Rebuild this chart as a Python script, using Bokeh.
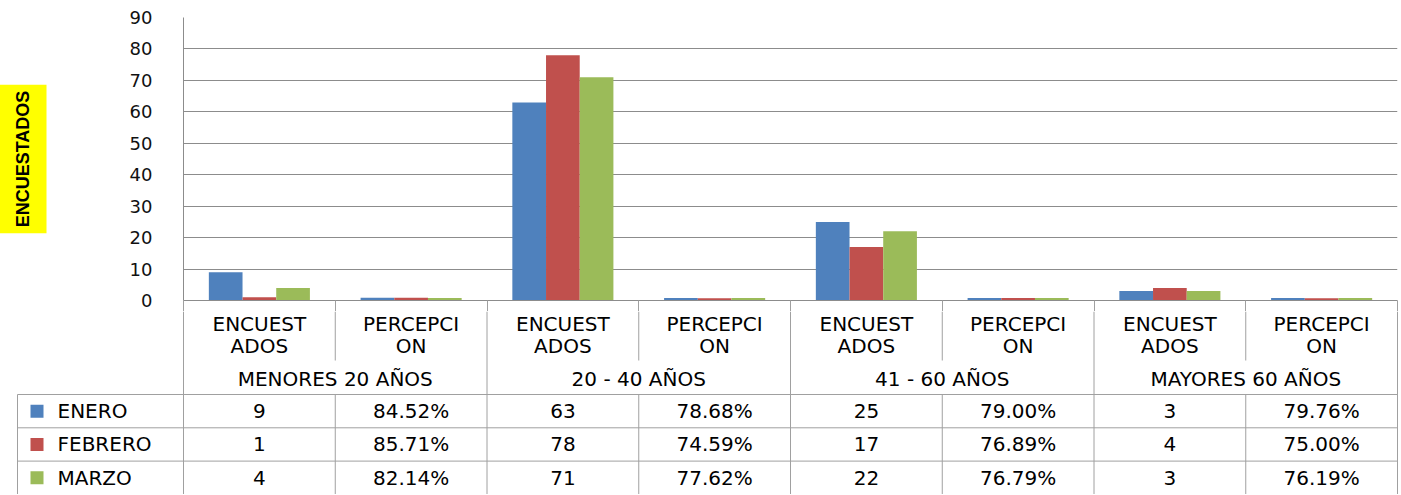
from bokeh.plotting import figure
from bokeh.layouts import column, row
from bokeh.models import Range1d, FixedTicker, Title, LinearAxis
from bokeh.core.properties import value
from bokeh.embed import file_html
from bokeh.resources import INLINE

# ---------------- data ----------------
groups = ["MENORES 20 AÑOS", "20 - 40 AÑOS", "41 - 60 AÑOS", "MAYORES 60 AÑOS"]
measure_lines = [["ENCUEST", "ADOS"], ["PERCEPCI", "ON"]]
series_names = ["ENERO", "FEBRERO", "MARZO"]
series_colors = ["#4F81BD", "#C0504D", "#9BBB59"]

enc_enero = [9, 63, 25, 3]
enc_febrero = [1, 78, 17, 4]
enc_marzo = [4, 71, 22, 3]

perc_enero = [84.52, 78.68, 79.00, 79.76]
perc_febrero = [85.71, 74.59, 76.89, 75.00]
perc_marzo = [82.14, 77.62, 76.79, 76.19]

y_ticks = [0, 10, 20, 30, 40, 50, 60, 70, 80, 90]
y_title = "ENCUESTADOS"

enc_all = [enc_enero, enc_febrero, enc_marzo]
perc_all = [perc_enero, perc_febrero, perc_marzo]

# ---------------- layout constants ----------------
W = 1400
FL = 183          # frame left
FR = 3            # frame right border
FW = W - FL - FR
NCAT = 2 * len(groups)
PPU = FW / NCAT
CH = 311
TH = 183
BAR_W = 0.222
FONT = "DejaVu Sans"
FS = "20px"
GRID = "#8c8c8c"
TLINE = "#a0a0a0"

# ---------------- chart ----------------
p = figure(width=W, height=CH, x_range=Range1d(0, NCAT), y_range=Range1d(y_ticks[0], y_ticks[-1]),
           x_axis_type=None, output_backend="svg", toolbar_location=None,
           min_border_left=FL, min_border_right=FR, min_border_top=17, min_border_bottom=0)
p.outline_line_color = None
p.yaxis.ticker = FixedTicker(ticks=y_ticks)
p.yaxis.major_tick_line_color = None
p.yaxis.major_tick_out = 0
p.yaxis.major_tick_in = 0
p.yaxis.minor_tick_line_color = None
p.yaxis.minor_tick_out = 0
p.yaxis.axis_line_color = GRID
p.yaxis.major_label_standoff = 31
p.yaxis.major_label_text_font = FONT
p.yaxis.major_label_text_font_size = "18px"
p.yaxis.major_label_text_color = "#111111"
p.ygrid.grid_line_color = GRID
p.ygrid.ticker = FixedTicker(ticks=y_ticks)

xax = LinearAxis(ticker=FixedTicker(ticks=list(range(NCAT + 1))),
                 axis_line_color=GRID, major_tick_line_color=TLINE,
                 major_tick_in=0, major_tick_out=11, minor_tick_line_color=None,
                 major_label_text_color=None, major_label_text_font_size="1px",
                 major_label_standoff=0)
p.add_layout(xax, "below")

# spacer between axis and the yellow title
p.add_layout(Title(text=" ", text_font_size="1px", standoff=77), "left")
p.add_layout(Title(text=y_title, align="center", background_fill_color="#FFFF00",
                   text_font="Liberation Sans", text_font_style="bold", text_font_size="18px",
                   text_color="black", standoff=0, offset=0, padding=(6, 14)), "left")

for s, (name, col) in enumerate(zip(series_names, series_colors)):
    xs, tops = [], []
    for g in range(len(groups)):
        for m in range(2):
            i = 2 * g + m
            xs.append(i + 0.5 + (s - 1) * BAR_W)
            tops.append(enc_all[s][g] if m == 0 else perc_all[s][g] / 100.0)
    p.vbar(x=xs, top=tops, bottom=0, width=BAR_W, fill_color=col, line_color=None)

# ---------------- data table ----------------
t = figure(width=W, height=TH, x_range=Range1d(-FL / PPU, (W - FL) / PPU), y_range=Range1d(TH, 0),
           x_axis_type=None, y_axis_type=None, output_backend="svg", toolbar_location=None,
           min_border=0, min_border_left=0, min_border_right=0, min_border_top=0, min_border_bottom=0)
t.outline_line_color = None
t.grid.visible = False

LEG_L = (17 - FL) / PPU
Y_L1, Y_L2, Y_SEP, Y_GRP, Y_HDR = 12, 34, 49, 67, 83
ROW_H = 33.3

x0, y0, x1, y1 = [], [], [], []
x0 += [0]; y0 += [0]; x1 += [0]; y1 += [TH]
for i in range(1, NCAT + 1):
    if i % 2 == 0:
        x0 += [i]; y0 += [0]; x1 += [i]; y1 += [TH]
    else:
        x0 += [i, i]; y0 += [0, Y_HDR]; x1 += [i, i]; y1 += [Y_SEP, TH]
x0 += [LEG_L]; y0 += [Y_HDR]; x1 += [LEG_L]; y1 += [TH]
for r in range(len(series_names)):
    yy = Y_HDR + r * ROW_H
    x0 += [LEG_L]; y0 += [yy]; x1 += [NCAT]; y1 += [yy]
t.segment(x0=x0, y0=y0, x1=x1, y1=y1, line_color=TLINE, line_width=1)

cx, cy, ct = [], [], []
for g in range(len(groups)):
    for m in range(2):
        i = 2 * g + m
        cx += [i + 0.5, i + 0.5]
        cy += [Y_L1, Y_L2]
        ct += measure_lines[m]
t.text(x=cx, y=cy, text=ct, text_align="center", text_baseline="middle",
       text_font=value(FONT), text_font_size=FS, text_color="black")

t.text(x=[2 * g + 1 for g in range(len(groups))], y=[Y_GRP] * len(groups), text=groups,
       text_align="center", text_baseline="middle",
       text_font=value(FONT), text_font_size=FS, text_color="black")

for s, (name, col) in enumerate(zip(series_names, series_colors)):
    yc = Y_HDR + s * ROW_H + ROW_H / 2
    t.scatter(x=[(36.5 - FL) / PPU], y=[yc], marker="square", size=13, fill_color=col, line_color=None)
    t.text(x=[(57 - FL) / PPU], y=[yc], text=[name], text_align="left", text_baseline="middle",
           text_font=value(FONT), text_font_size=FS, text_color="black")
    vx, vt = [], []
    for g in range(len(groups)):
        vx += [2 * g + 0.5, 2 * g + 1.5]
        vt += [str(enc_all[s][g]), "%.2f%%" % perc_all[s][g]]
    t.text(x=vx, y=[yc] * len(vx), text=vt, text_align="center", text_baseline="middle",
           text_font=value(FONT), text_font_size=FS, text_color="black")

layout = column(p, row(t), spacing=0)
open("out.html", "w").write(file_html(layout, INLINE))
